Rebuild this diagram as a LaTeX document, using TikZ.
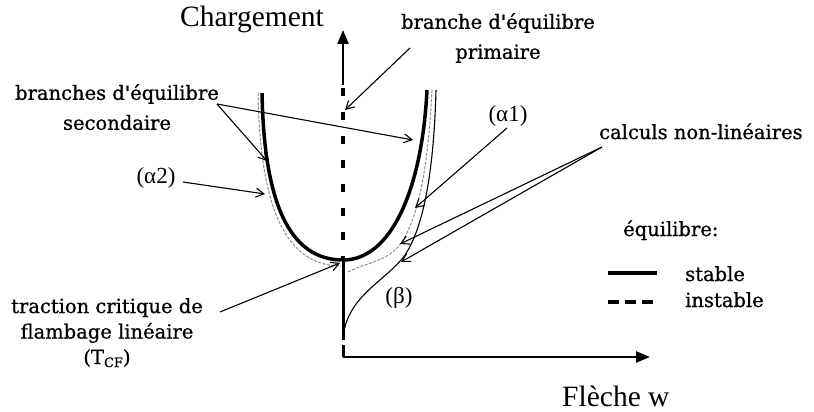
\documentclass[tikz,border=0pt]{standalone}
\usepackage{fontspec}
\setmainfont{Liberation Serif}
\newfontfamily\lblfont[FakeBold=0.9]{DejaVu Serif}
\usetikzlibrary{arrows.meta}
\begin{document}
\begin{tikzpicture}[x=1pt,y=-1pt,
  bigtxt/.style={font=\fontsize{29.5}{30}\selectfont, inner sep=0pt},
  smalltxt/.style={font=\lblfont\fontsize{19.5}{30}\selectfont, inner sep=0pt, align=center},
  greektxt/.style={font=\fontsize{23}{23}\selectfont, inner sep=0pt},
  thinarr/.style={line width=1.1pt, -{Straight Barb[length=8pt,width=9pt,line width=1.1pt]}},
  axisline/.style={line width=2.4pt},
  stablecurve/.style={line width=3.5pt},
  instablecurve/.style={line width=3.5pt, dash pattern=on 8pt off 16pt},
  calccurve/.style={draw=black!45, line width=1pt, dash pattern=on 3pt off 1.5pt},
  betacurve/.style={line width=1.1pt}
]
\useasboundingbox (0,0) rectangle (814,412);

% axes
\coordinate (origin) at (343,357);
\coordinate (xend) at (650,357);
\coordinate (ytop) at (343,30);
\coordinate (ystub) at (343,85);
\coordinate (vertex) at (343,260);
\coordinate (dashtop) at (343,88);
\coordinate (gapA) at (343,340);
\coordinate (gapB) at (343,345);
\draw[axisline, -{Triangle[length=14pt,width=11pt]}] (origin) -- (xend);
\draw[axisline, -{Triangle[length=14pt,width=11pt]}] (ystub) -- (ytop);
\draw[instablecurve] (dashtop) -- (vertex);
\draw[line width=3pt] (vertex) -- (gapA);
\draw[line width=3pt] (gapB) -- (origin);

% secondary branches (stable)
\draw[stablecurve] (262,93) .. controls (264,200) and (288,260) .. (vertex)
  .. controls (391,260) and (422,190) .. (427,90);

% non-linear computations
\draw[calccurve] (258,93) .. controls (260,206) and (285,266) .. (341,266);
\draw[calccurve] (432,90) .. controls (428,170) and (418,222) .. (398,247)
  .. controls (385,262) and (362,264) .. (348,272);
\draw[betacurve] (343,337) .. controls (348,295) and (385,282) .. (405,255)
  .. controls (425,225) and (434,165) .. (436,90);

% labels
\node[bigtxt, anchor=base west] (charg) at (180,27) {Chargement};
\node[bigtxt, anchor=base west] (fleche) at (562,406) {Flèche w};
\node[smalltxt, anchor=north] (prim) at (498,13) {branche d'équilibre\\primaire};
\node[smalltxt, anchor=north] (sec) at (117,84) {branches d'équilibre\\secondaire};
\node[smalltxt, anchor=north, font=\lblfont\fontsize{19.5}{25.5}\selectfont] (trac) at (107,298)
  {traction critique de\\flambage linéaire\\(T\raisebox{-3pt}{\fontsize{13}{13}\selectfont CF})};
\node[smalltxt, anchor=base west] (calc) at (599,139) {calculs non-linéaires};
\node[smalltxt, anchor=base west] (equi) at (623,236) {équilibre:};
\node[smalltxt, anchor=base west] (stab) at (685,281) {stable};
\node[smalltxt, anchor=base west] (instab) at (685,307) {instable};
\node[greektxt] (a1) at (508,116) {(α1)};
\node[greektxt] (a2) at (156,178) {(α2)};
\node[greektxt] (beta) at (399,298) {(β)};

% legend lines
\coordinate (ls1) at (608,273); \coordinate (ls2) at (657,273);
\coordinate (li1) at (608,302); \coordinate (li2) at (657,302);
\draw[line width=3.2pt] (ls1) -- (ls2);
\draw[line width=3.2pt, dash pattern=on 11pt off 6pt] (li1) -- (li2);

% pointer arrows
\coordinate (primS) at (410,48);  \coordinate (primT) at (345,110);
\coordinate (secS) at (217,104);  \coordinate (secT1) at (413,140); \coordinate (secT2) at (267,161);
\coordinate (a2S) at (183,182);   \coordinate (a2T) at (265,194);
\coordinate (a1S) at (507,128);   \coordinate (a1T) at (415,208);
\coordinate (calcS) at (602,147); \coordinate (calcT1) at (400,244); \coordinate (calcT2) at (401,262);
\coordinate (tracS) at (220,312); \coordinate (tracT) at (340,263);
\draw[thinarr] (primS) -- (primT);
\draw[thinarr] (secS) -- (secT1);
\draw[thinarr] (secS) -- (secT2);
\draw[thinarr] (a2S) -- (a2T);
\draw[thinarr] (a1S) -- (a1T);
\draw[thinarr] (calcS) -- (calcT1);
\draw[thinarr] (calcS) -- (calcT2);
\draw[thinarr] (tracS) -- (tracT);
\end{tikzpicture}
\end{document}
